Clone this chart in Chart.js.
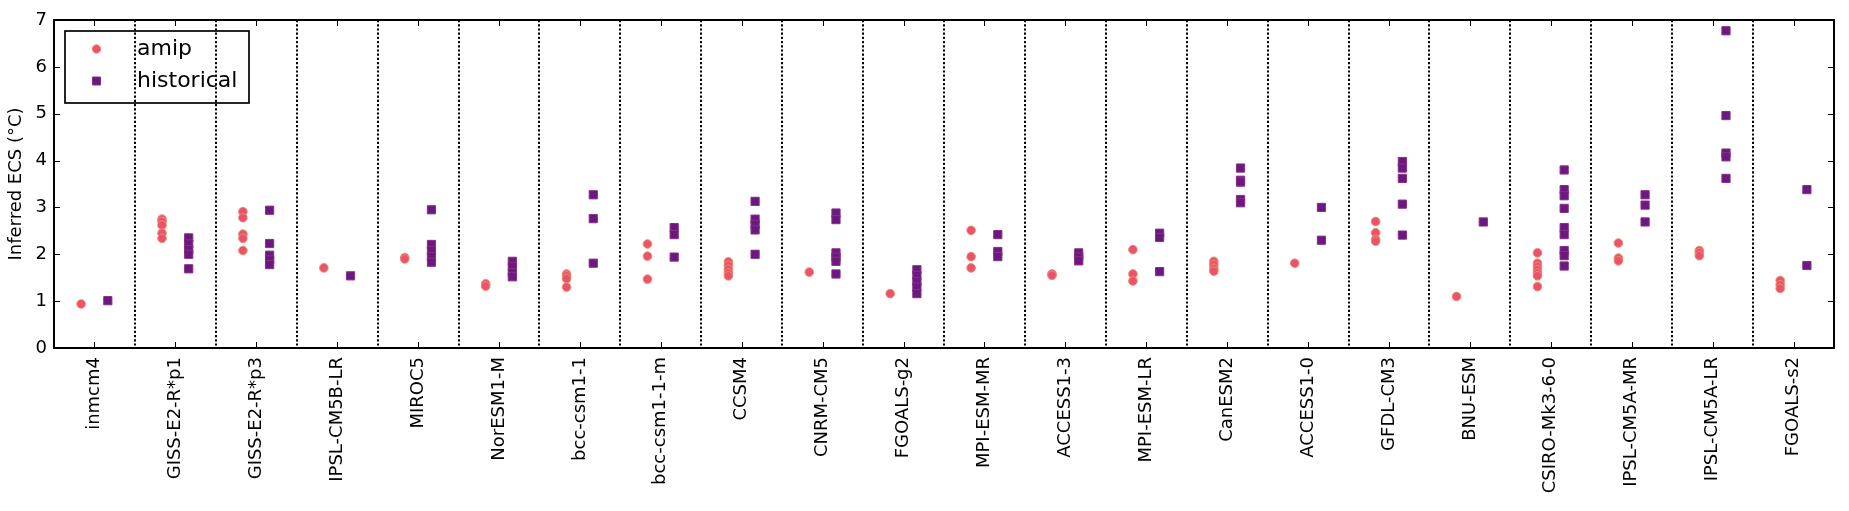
<!DOCTYPE html>
<html>
<head>
<meta charset="utf-8">
<script src="https://cdn.jsdelivr.net/npm/chart.js@4.4.1/dist/chart.umd.min.js"></script>
<style>
  html, body { margin: 0; padding: 0; background: #fff; }
  #wrap { width: 1849px; height: 511px; }
</style>
</head>
<body>
<div id="wrap"><canvas id="chart" width="1849" height="511"></canvas></div>
<script>
const MODELS = [
    'inmcm4', 'GISS-E2-R*p1', 'GISS-E2-R*p3', 'IPSL-CM5B-LR', 'MIROC5', 'NorESM1-M',
    'bcc-csm1-1', 'bcc-csm1-1-m', 'CCSM4', 'CNRM-CM5', 'FGOALS-g2', 'MPI-ESM-MR',
    'ACCESS1-3', 'MPI-ESM-LR', 'CanESM2', 'ACCESS1-0', 'GFDL-CM3', 'BNU-ESM',
    'CSIRO-Mk3-6-0', 'IPSL-CM5A-MR', 'IPSL-CM5A-LR', 'FGOALS-s2'
];

// one list of estimates per model, same order as MODELS
const AMIP = [
    [0.94],
    [2.75, 2.7, 2.62, 2.45, 2.34],
    [2.91, 2.78, 2.43, 2.34, 2.08],
    [1.71],
    [1.93, 1.9],
    [1.37, 1.32],
    [1.58, 1.54, 1.48, 1.3],
    [2.22, 1.96, 1.47],
    [1.84, 1.76, 1.68, 1.6, 1.54],
    [1.62],
    [1.16],
    [2.51, 1.95, 1.71],
    [1.58, 1.55],
    [2.1, 1.58, 1.43],
    [1.85, 1.78, 1.7, 1.64],
    [1.81],
    [2.7, 2.46, 2.32, 2.28],
    [1.1],
    [2.03, 1.81, 1.74, 1.67, 1.6, 1.54, 1.31],
    [2.24, 1.92, 1.86],
    [2.08, 2.03, 1.97],
    [1.44, 1.35, 1.27]
];

const HISTORICAL = [
    [1.01],
    [2.35, 2.22, 2.1, 2.0, 1.69],
    [2.94, 2.23, 1.98, 1.88, 1.78],
    [1.54],
    [2.95, 2.21, 2.08, 1.95, 1.83],
    [1.85, 1.74, 1.61, 1.52],
    [3.27, 2.76, 1.81],
    [2.57, 2.42, 1.94],
    [3.13, 2.75, 2.64, 2.52, 2.0],
    [2.88, 2.74, 2.03, 1.94, 1.85, 1.58],
    [1.67, 1.55, 1.42, 1.3, 1.16],
    [2.42, 2.06, 1.95],
    [2.03, 1.94, 1.86],
    [2.45, 2.36, 1.63],
    [3.84, 3.58, 3.54, 3.17, 3.1],
    [3.0, 2.3],
    [3.98, 3.84, 3.62, 3.07, 2.41],
    [2.69],
    [3.8, 3.38, 3.25, 2.98, 2.57, 2.42, 2.08, 1.97, 1.75],
    [3.27, 3.05, 2.69],
    [6.77, 4.96, 4.16, 4.08, 3.62],
    [3.38, 1.76]
];

const Y_TICKS = [0, 1, 2, 3, 4, 5, 6, 7];

const AMIP_SHIFT = -0.165;
const HIST_SHIFT = 0.165;

const AMIP_FILL = '#e9546a';
const AMIP_EDGE = '#f2876f';
const HIST_FILL = '#69197f';
const HIST_EDGE = '#8c2d85';

Chart.defaults.font.family = '"DejaVu Sans", sans-serif';
Chart.defaults.color = '#000';

const toPoints = (lists, shift) =>
    lists.flatMap((vals, i) => vals.map(v => ({ x: i + shift, y: v })));

// dotted separators between the models
const separators = {
    id: 'separators',
    beforeDatasetsDraw(chart) {
        const { ctx, chartArea: a, scales: { x } } = chart;
        ctx.save();
        ctx.strokeStyle = '#000';
        ctx.lineWidth = 2;
        ctx.setLineDash([2.2, 2]);
        for (let i = 0; i < MODELS.length - 1; i++) {
            const px = Math.round(x.getPixelForValue(i + 0.5));
            ctx.beginPath();
            ctx.moveTo(px, a.top);
            ctx.lineTo(px, a.bottom);
            ctx.stroke();
        }
        ctx.restore();
    }
};

// box, inward ticks and the legend
const frame = {
    id: 'frame',
    afterDraw(chart) {
        const { ctx, chartArea: a, scales: { x, y } } = chart;
        const tick = 6;
        ctx.save();
        ctx.strokeStyle = '#000';
        ctx.lineWidth = 1;
        ctx.beginPath();
        MODELS.forEach((_, i) => {
            const px = Math.round(x.getPixelForValue(i)) + 0.5;
            ctx.moveTo(px, a.bottom); ctx.lineTo(px, a.bottom - tick);
            ctx.moveTo(px, a.top); ctx.lineTo(px, a.top + tick);
        });
        Y_TICKS.forEach(v => {
            const py = Math.round(y.getPixelForValue(v)) + 0.5;
            ctx.moveTo(a.left, py); ctx.lineTo(a.left + tick, py);
            ctx.moveTo(a.right, py); ctx.lineTo(a.right - tick, py);
        });
        ctx.stroke();

        ctx.lineWidth = 2;
        ctx.strokeRect(a.left, a.top, a.right - a.left, a.bottom - a.top);

        // legend
        const lx = a.left + 11, ly = a.top + 11;
        ctx.lineWidth = 1.7;
        ctx.strokeRect(lx, ly, 184, 72);
        const items = chart.data.datasets;
        items.forEach((ds, k) => {
            const cy = ly + 18 + k * 32;
            const cx = lx + 31.5;
            ctx.fillStyle = ds.backgroundColor;
            ctx.strokeStyle = ds.borderColor;
            ctx.lineWidth = 1;
            ctx.beginPath();
            if (ds.pointStyle === 'rect') {
                ctx.rect(cx - 4, cy - 4, 8, 8);
            } else {
                ctx.arc(cx, cy, 4.2, 0, Math.PI * 2);
            }
            ctx.fill();
            ctx.stroke();
            ctx.fillStyle = '#000';
            ctx.font = '22px "DejaVu Sans", sans-serif';
            ctx.textBaseline = 'middle';
            ctx.textAlign = 'left';
            ctx.fillText(ds.label, lx + 72, cy);
        });
        ctx.restore();
    }
};

new Chart(document.getElementById('chart'), {
    type: 'scatter',
    data: {
        datasets: [
            {
                label: 'amip',
                data: toPoints(AMIP, AMIP_SHIFT),
                pointStyle: 'circle',
                pointRadius: 4.3,
                backgroundColor: AMIP_FILL,
                borderColor: AMIP_EDGE,
                borderWidth: 1,
            },
            {
                label: 'historical',
                data: toPoints(HISTORICAL, HIST_SHIFT),
                pointStyle: 'rect',
                pointRadius: 5.8,
                backgroundColor: HIST_FILL,
                borderColor: HIST_EDGE,
                borderWidth: 1,
            }
        ]
    },
    options: {
        responsive: false,
        animation: false,
        devicePixelRatio: 1,
        layout: { padding: { top: 20, right: 15, left: 0, bottom: 0 } },
        plugins: { legend: { display: false }, tooltip: { enabled: false } },
        scales: {
            x: {
                type: 'linear',
                min: -0.5,
                max: MODELS.length - 0.5,
                afterBuildTicks: (s) => { s.ticks = MODELS.map((_, i) => ({ value: i })); },
                afterFit: (s) => { s.height = 163; },
                grid: { display: false, drawTicks: false },
                border: { display: false },
                ticks: {
                    autoSkip: false,
                    minRotation: 90,
                    maxRotation: 90,
                    padding: 9,
                    font: { size: 18 },
                    callback: (v) => MODELS[v],
                },
            },
            y: {
                min: 0,
                max: 7,
                afterBuildTicks: (s) => { s.ticks = Y_TICKS.map(v => ({ value: v })); },
                afterFit: (s) => { s.width = 54; },
                grid: { display: false, drawTicks: false },
                border: { display: false },
                ticks: { padding: 7, font: { size: 18 } },
                title: {
                    display: true,
                    text: 'Inferred ECS (°C)',
                    font: { size: 18 },
                    padding: { top: 6, bottom: 0 },
                },
            },
        },
    },
    plugins: [separators, frame],
});
</script>
</body>
</html>
